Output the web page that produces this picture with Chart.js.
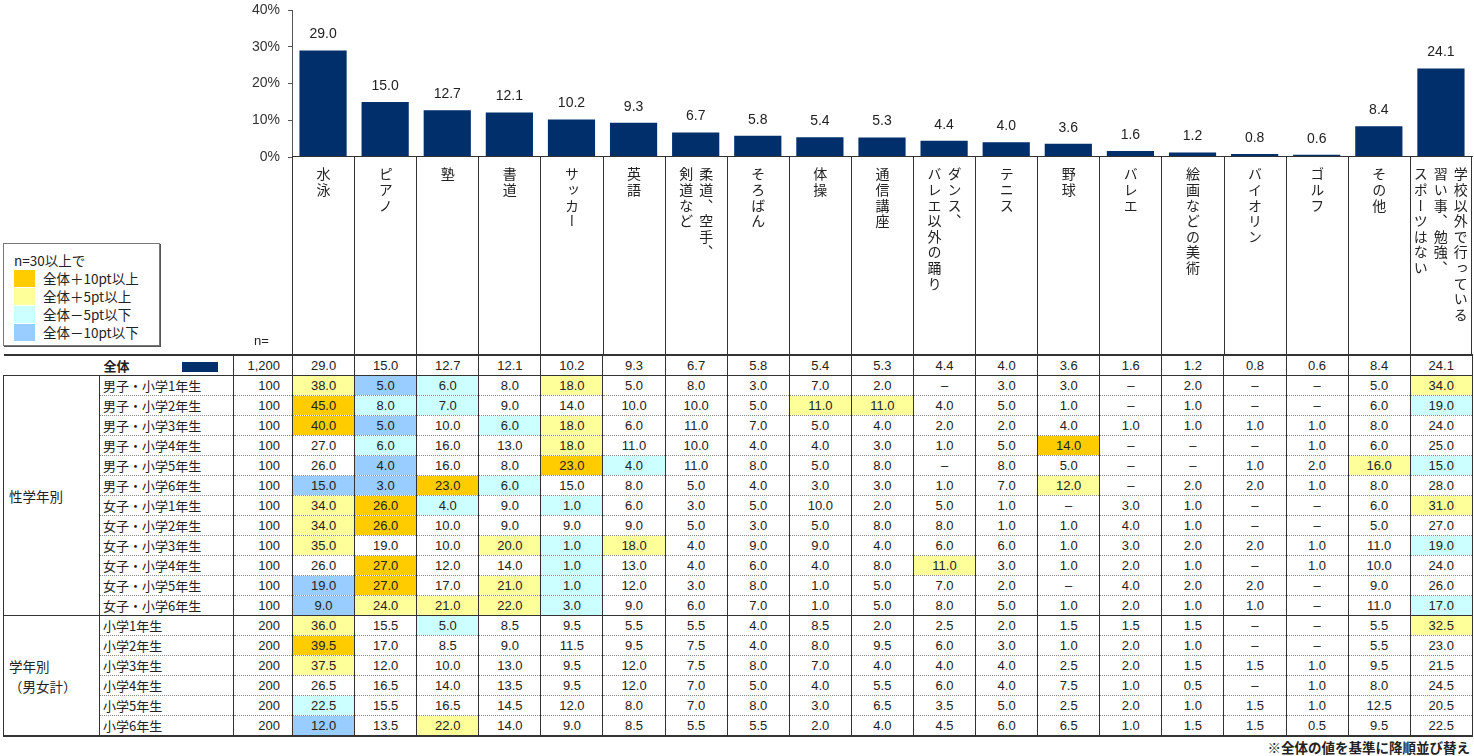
<!DOCTYPE html>
<html lang="ja">
<head>
<meta charset="utf-8">
<script src="https://cdn.jsdelivr.net/npm/chart.js@4.4.1/dist/chart.umd.min.js"></script>
<style>
  body { margin:0; width:1474px; height:756px; overflow:hidden; background:#fff; position:relative;
         font-family:"Liberation Sans", Arial, sans-serif; color:#222; }
  .jp { font-family:"Noto Sans CJK JP", "Noto Sans", sans-serif; }
  #chartBox { position:absolute; left:230px; top:0; width:1244px; height:175px; }
  .head { position:absolute; top:157px; height:197px; border-left:1px solid #333; box-sizing:border-box;
          display:flex; justify-content:center; align-items:flex-start; }
  .head span { writing-mode:vertical-rl; white-space:pre; font-size:14px; line-height:20px; letter-spacing:1.6px;
               margin-top:10px; }
  #baseline { position:absolute; left:292px; top:156px; width:1181px; height:0; border-top:1px solid #333; }
  table { position:absolute; left:3px; top:354px; border-collapse:collapse; table-layout:fixed; width:1469px;
          border-top:2px solid #333; border-bottom:2px solid #333; }
  td { height:19px; padding:0; font-size:13px; text-align:center; vertical-align:middle;
       border-left:1px solid #333; border-right:1px solid #333; white-space:nowrap; overflow:hidden; }
  td.n { text-align:right; padding-right:12px; }
  td.lab { text-align:left; padding-left:3px; font-size:13px; }
  td.grp { text-align:left; padding-left:5px; font-size:13.5px; line-height:20px; }
  tr.dot td { border-bottom:1px dotted #888; }
  tr.solid td { border-bottom:1px solid #333; }
  #legend { position:absolute; left:3px; top:243px; width:155px; height:101px; border:1px solid #777;
            box-shadow:1px 1px 0 #555; font-size:13.5px; }
  #legend .t { position:absolute; left:10px; top:6px; }
  #legend .row { position:absolute; left:10px; height:17px; line-height:17px; }
  #legend .sw { display:inline-block; width:21px; height:17px; vertical-align:top; margin-right:8px; }
  #nlab { position:absolute; left:254px; top:333px; font-size:13px; }
  #note { position:absolute; right:4px; top:737px; font-size:13.5px; font-weight:bold; }
</style>
</head>
<body>
<div id="chartBox"><canvas id="bars"></canvas></div>
<div id="baseline"></div>
<div id="heads"></div>
<div id="legend" class="jp">
  <div class="t">n=30以上で</div>
  <div class="row" style="top:26px"><span class="sw" style="background:#ffcc00"></span>全体＋10pt以上</div>
  <div class="row" style="top:44px"><span class="sw" style="background:#ffff99"></span>全体＋5pt以上</div>
  <div class="row" style="top:62px"><span class="sw" style="background:#ccffff"></span>全体－5pt以下</div>
  <div class="row" style="top:80px"><span class="sw" style="background:#99ccff"></span>全体－10pt以下</div>
</div>
<div id="nlab">n=</div>
<table id="tbl"></table>
<div id="note" class="jp">※全体の値を基準に降順並び替え</div>
<script>
// categories (vertical headers), "\n" = next column of vertical text
const categories = ['水泳', 'ピアノ', '塾', '書道', 'サッカー', '英語', '柔道、空手、\n剣道など', 'そろばん', '体操',
  '通信講座', 'ダンス、\nバレエ以外の踊り', 'テニス', '野球', 'バレエ', '絵画などの美術', 'バイオリン', 'ゴルフ', 'その他',
  '学校以外で行っている\n習い事、勉強、\nスポーツはない'];
const totalN = '1,200';
const totalValues = [29.0, 15.0, 12.7, 12.1, 10.2, 9.3, 6.7, 5.8, 5.4, 5.3, 4.4, 4.0, 3.6, 1.6, 1.2, 0.8, 0.6, 8.4, 24.1];
const yTicks = [0, 10, 20, 30, 40];

const groupLabels = ['性学年別', '学年別\n（男女計）'];
const rowLabels = ['男子・小学1年生', '男子・小学2年生', '男子・小学3年生', '男子・小学4年生', '男子・小学5年生', '男子・小学6年生',
  '女子・小学1年生', '女子・小学2年生', '女子・小学3年生', '女子・小学4年生', '女子・小学5年生', '女子・小学6年生',
  '小学1年生', '小学2年生', '小学3年生', '小学4年生', '小学5年生', '小学6年生'];
const rowN = [100, 100, 100, 100, 100, 100, 100, 100, 100, 100, 100, 100, 200, 200, 200, 200, 200, 200];
// null = "–"
const rowValues = [
  [38.0, 5.0, 6.0, 8.0, 18.0, 5.0, 8.0, 3.0, 7.0, 2.0, null, 3.0, 3.0, null, 2.0, null, null, 5.0, 34.0],
  [45.0, 8.0, 7.0, 9.0, 14.0, 10.0, 10.0, 5.0, 11.0, 11.0, 4.0, 5.0, 1.0, null, 1.0, null, null, 6.0, 19.0],
  [40.0, 5.0, 10.0, 6.0, 18.0, 6.0, 11.0, 7.0, 5.0, 4.0, 2.0, 2.0, 4.0, 1.0, 1.0, 1.0, 1.0, 8.0, 24.0],
  [27.0, 6.0, 16.0, 13.0, 18.0, 11.0, 10.0, 4.0, 4.0, 3.0, 1.0, 5.0, 14.0, null, null, null, 1.0, 6.0, 25.0],
  [26.0, 4.0, 16.0, 8.0, 23.0, 4.0, 11.0, 8.0, 5.0, 8.0, null, 8.0, 5.0, null, null, 1.0, 2.0, 16.0, 15.0],
  [15.0, 3.0, 23.0, 6.0, 15.0, 8.0, 5.0, 4.0, 3.0, 3.0, 1.0, 7.0, 12.0, null, 2.0, 2.0, 1.0, 8.0, 28.0],
  [34.0, 26.0, 4.0, 9.0, 1.0, 6.0, 3.0, 5.0, 10.0, 2.0, 5.0, 1.0, null, 3.0, 1.0, null, null, 6.0, 31.0],
  [34.0, 26.0, 10.0, 9.0, 9.0, 9.0, 5.0, 3.0, 5.0, 8.0, 8.0, 1.0, 1.0, 4.0, 1.0, null, null, 5.0, 27.0],
  [35.0, 19.0, 10.0, 20.0, 1.0, 18.0, 4.0, 9.0, 9.0, 4.0, 6.0, 6.0, 1.0, 3.0, 2.0, 2.0, 1.0, 11.0, 19.0],
  [26.0, 27.0, 12.0, 14.0, 1.0, 13.0, 4.0, 6.0, 4.0, 8.0, 11.0, 3.0, 1.0, 2.0, 1.0, null, 1.0, 10.0, 24.0],
  [19.0, 27.0, 17.0, 21.0, 1.0, 12.0, 3.0, 8.0, 1.0, 5.0, 7.0, 2.0, null, 4.0, 2.0, 2.0, null, 9.0, 26.0],
  [9.0, 24.0, 21.0, 22.0, 3.0, 9.0, 6.0, 7.0, 1.0, 5.0, 8.0, 5.0, 1.0, 2.0, 1.0, 1.0, null, 11.0, 17.0],
  [36.0, 15.5, 5.0, 8.5, 9.5, 5.5, 5.5, 4.0, 8.5, 2.0, 2.5, 2.0, 1.5, 1.5, 1.5, null, null, 5.5, 32.5],
  [39.5, 17.0, 8.5, 9.0, 11.5, 9.5, 7.5, 4.0, 8.0, 9.5, 6.0, 3.0, 1.0, 2.0, 1.0, null, null, 5.5, 23.0],
  [37.5, 12.0, 10.0, 13.0, 9.5, 12.0, 7.5, 8.0, 7.0, 4.0, 4.0, 4.0, 2.5, 2.0, 1.5, 1.5, 1.0, 9.5, 21.5],
  [26.5, 16.5, 14.0, 13.5, 9.5, 12.0, 7.0, 5.0, 4.0, 5.5, 6.0, 4.0, 7.5, 1.0, 0.5, null, 1.0, 8.0, 24.5],
  [22.5, 15.5, 16.5, 14.5, 12.0, 8.0, 7.0, 8.0, 3.0, 6.5, 3.5, 5.0, 2.5, 2.0, 1.0, 1.5, 1.0, 12.5, 20.5],
  [12.0, 13.5, 22.0, 14.0, 9.0, 8.5, 5.5, 5.5, 2.0, 4.0, 4.5, 6.0, 6.5, 1.0, 1.5, 1.5, 0.5, 9.5, 22.5]
];
const groupSizes = [12, 6];

const NAVY = '#002f6c';
const colLeft = 292, colW = 62.1;

// highlight colour against the overall value
function cellColor(v, base) {
  if (v == null) return '';
  const d = Math.round((v - base) * 10) / 10;
  if (d >= 10) return '#ffcc00';
  if (d >= 5) return '#ffff99';
  if (d <= -10) return '#99ccff';
  if (d <= -5) return '#ccffff';
  return '';
}
const fmt = v => v == null ? '–' : v.toFixed(1);

// vertical headers
const heads = document.getElementById('heads');
categories.forEach((c, i) => {
  const d = document.createElement('div');
  d.className = 'head';
  d.style.left = (colLeft + i * colW) + 'px';
  d.style.width = colW + 'px';
  if (i === categories.length - 1) d.style.borderRight = '1px solid #333';
  const s = document.createElement('span');
  s.className = 'jp';
  s.textContent = c;
  d.appendChild(s);
  heads.appendChild(d);
});

// table
const tbl = document.getElementById('tbl');
let html = '<colgroup><col style="width:96px"><col style="width:134px"><col style="width:59px">';
categories.forEach(() => html += '<col style="width:' + colW + 'px">');
html += '</colgroup>';
html += '<tr class="solid"><td colspan="2" class="jp" style="text-align:left;padding-left:100px;border-left:none;font-weight:bold">全体'
  + '<span style="display:inline-block;width:36px;height:10px;background:' + NAVY + ';margin-left:52px;vertical-align:-1px"></span></td>'
  + '<td class="n">' + totalN + '</td>';
totalValues.forEach(v => html += '<td>' + fmt(v) + '</td>');
html += '</tr>';
let r = 0;
groupSizes.forEach((size, g) => {
  for (let k = 0; k < size; k++, r++) {
    html += '<tr class="' + (k === size - 1 ? 'solid' : 'dot') + '">';
    if (k === 0) html += '<td rowspan="' + size + '" class="grp jp" style="border-bottom:1px solid #333">'
      + groupLabels[g].replace('\n', '<br>') + '</td>';
    html += '<td class="lab jp">' + rowLabels[r] + '</td><td class="n">' + rowN[r] + '</td>';
    rowValues[r].forEach((v, j) => {
      const bg = cellColor(v, totalValues[j]);
      html += '<td' + (bg ? ' style="background:' + bg + '"' : '') + '>' + fmt(v) + '</td>';
    });
    html += '</tr>';
  }
});
tbl.innerHTML = html;

// bar chart
const valueLabels = {
  id: 'valueLabels',
  afterDatasetsDraw(chart) {
    const ctx = chart.ctx;
    const meta = chart.getDatasetMeta(0);
    ctx.save();
    ctx.font = '14px "Liberation Sans", Arial, sans-serif';
    ctx.fillStyle = '#222';
    ctx.textAlign = 'center';
    ctx.textBaseline = 'bottom';
    meta.data.forEach((bar, i) => {
      ctx.fillText(totalValues[i].toFixed(1), bar.x, bar.y - 9);
    });
    ctx.restore();
  }
};

new Chart(document.getElementById('bars'), {
  type: 'bar',
  data: {
    labels: categories,
    datasets: [{
      data: totalValues,
      backgroundColor: NAVY,
      barPercentage: 0.76,
      categoryPercentage: 1
    }]
  },
  options: {
    responsive: true,
    maintainAspectRatio: false,
    animation: false,
    layout: { padding: { top: 10, right: 2, bottom: 18, left: 0 } },
    plugins: { legend: { display: false }, tooltip: { enabled: false } },
    scales: {
      x: { display: false },
      y: {
        min: 0, max: 40,
        afterFit(scale) { scale.width = 62; scale.paddingTop = 0; scale.paddingBottom = 0; },
        afterBuildTicks(scale) { scale.ticks = yTicks.map(v => ({ value: v })); },
        ticks: {
          callback: v => v + '%',
          font: { size: 14, family: '"Liberation Sans", Arial, sans-serif' },
          color: '#333',
          padding: 8
        },
        grid: { drawOnChartArea: false, drawTicks: true, tickLength: 4, color: '#555' },
        border: { display: true, color: '#555' }
      }
    }
  },
  plugins: [valueLabels]
});
</script>
</body>
</html>
